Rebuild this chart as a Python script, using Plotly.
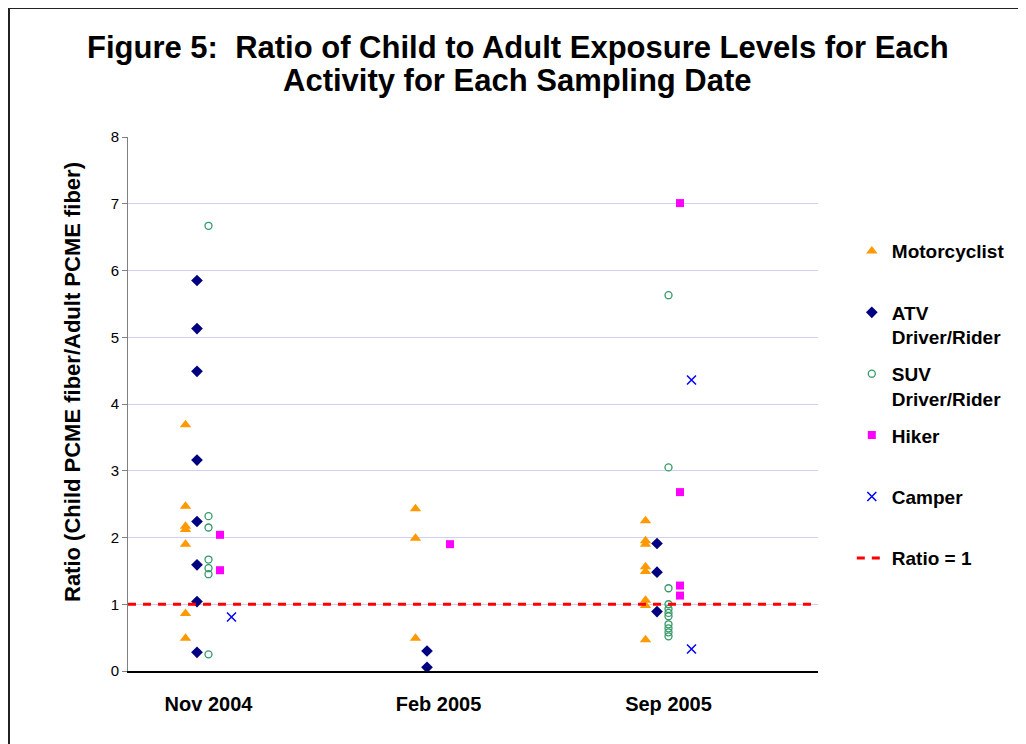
import plotly.graph_objects as go

dates = ["Nov 2004", "Feb 2005", "Sep 2005"]

motorcyclist = [
    [3.69, 2.47, 2.17, 2.12, 1.90, 0.86, 0.49],
    [2.43, 1.99, 0.49],
    [2.25, 1.95, 1.90, 1.56, 1.49, 1.06, 0.98, 0.47],
]
atv = [
    [5.85, 5.13, 4.49, 3.16, 2.24, 1.59, 1.04, 0.28],
    [0.30, 0.055],
    [1.91, 1.48, 0.89],
]
suv = [
    [6.67, 2.32, 2.15, 1.67, 1.54, 1.45, 0.25],
    [],
    [5.63, 3.05, 1.24, 1.00, 0.93, 0.87, 0.82, 0.70, 0.64, 0.58, 0.52],
]
hiker = [
    [2.04, 1.51],
    [1.90],
    [7.01, 2.68, 1.28, 1.13],
]
camper = [
    [0.81],
    [],
    [4.36, 0.33],
]
ratio_line = 1.0

series = [
    ("Motorcyclist<br> ", motorcyclist, dict(symbol="triangle-up", size=10, color="#FF9900")),
    ("ATV<br>Driver/Rider", atv, dict(symbol="diamond", size=9, color="#000080")),
    ("SUV<br>Driver/Rider", suv, dict(symbol="circle-open", size=7, color="#339966", line=dict(width=1.3))),
    ("Hiker<br> ", hiker, dict(symbol="square", size=8, color="#FF00FF")),
    ("Camper<br> ", camper, dict(symbol="x-thin-open", size=9, color="#0000FF", line=dict(width=1.5))),
]

# position of each series within a date group (Excel scatter x offsets)
group_start = -0.25
group_step = 0.05

fig = go.Figure()
for s_idx, (name, data, mk) in enumerate(series):
    xs, ys = [], []
    for d_idx, vals in enumerate(data):
        for v in vals:
            xs.append(d_idx + 1 + group_start + s_idx * group_step)
            ys.append(v)
    fig.add_trace(go.Scatter(x=xs, y=ys, mode="markers", name=name,
                             legendgroup=name, marker=mk, cliponaxis=False))

x_range = [0.5, 3.5]
fig.add_trace(go.Scatter(x=x_range, y=[ratio_line, ratio_line], mode="lines",
                         name="Ratio = 1", legendgroup="ratio",
                         line=dict(color="#FF0000", width=3, dash="8px,7px")))

tick_pos = [i + 1 + group_start + 2 * group_step for i in range(len(dates))]

title_font = dict(family="Arial, Liberation Sans, sans-serif", size=31, color="black", weight="bold")

fig.update_layout(
    width=1026, height=744,
    paper_bgcolor="white", plot_bgcolor="white",
    margin=dict(l=120, r=216, t=129, b=81),
    font=dict(family="Arial, Liberation Sans, sans-serif", color="black"),
    showlegend=True,
    legend=dict(x=1.049, xanchor="left", y=0.822, yanchor="top",
                font=dict(family="Arial, Liberation Sans, sans-serif", size=19, color="black", weight="bold"),
                valign="top", tracegroupgap=9, bgcolor="rgba(0,0,0,0)"),
    xaxis=dict(range=x_range, showgrid=False, zeroline=False,
               showline=True, linecolor="black", linewidth=1.5,
               tickmode="array", tickvals=tick_pos, ticktext=dates,
               ticks="", ticklabelstandoff=14,
               tickfont=dict(size=20, weight="bold", color="black")),
    yaxis=dict(range=[0, 8], dtick=1, showgrid=True, gridcolor="#D0D0F4", gridwidth=1,
               zeroline=False, showline=True, linecolor="#808080", linewidth=1,
               ticks="outside", ticklen=5, tickcolor="#808080",
               tickfont=dict(size=15, color="black")),
    annotations=[
        dict(text="Figure 5:  Ratio of Child to Adult Exposure Levels for Each",
             xref="paper", yref="paper", x=0.565, y=1 + 89 / 534,
             xanchor="center", yanchor="middle", showarrow=False, font=title_font),
        dict(text="Activity for Each Sampling Date",
             xref="paper", yref="paper", x=0.565, y=1 + 57 / 534,
             xanchor="center", yanchor="middle", showarrow=False, font=title_font),
        dict(text="Ratio (Child PCME fiber/Adult PCME fiber)",
             xref="paper", yref="paper", x=-56 / 690, y=289 / 534, textangle=-90,
             xanchor="center", yanchor="middle", showarrow=False,
             font=dict(family="Arial, Liberation Sans, sans-serif", size=22, color="black", weight="bold")),
    ],
    shapes=[dict(type="rect", xref="paper", yref="paper",
                 x0=-119 / 690, x1=893 / 690, y0=-0.3, y1=663 / 534,
                 line=dict(color="#222222", width=2), fillcolor="rgba(0,0,0,0)", layer="below")],
)

fig.write_html("out.html")
